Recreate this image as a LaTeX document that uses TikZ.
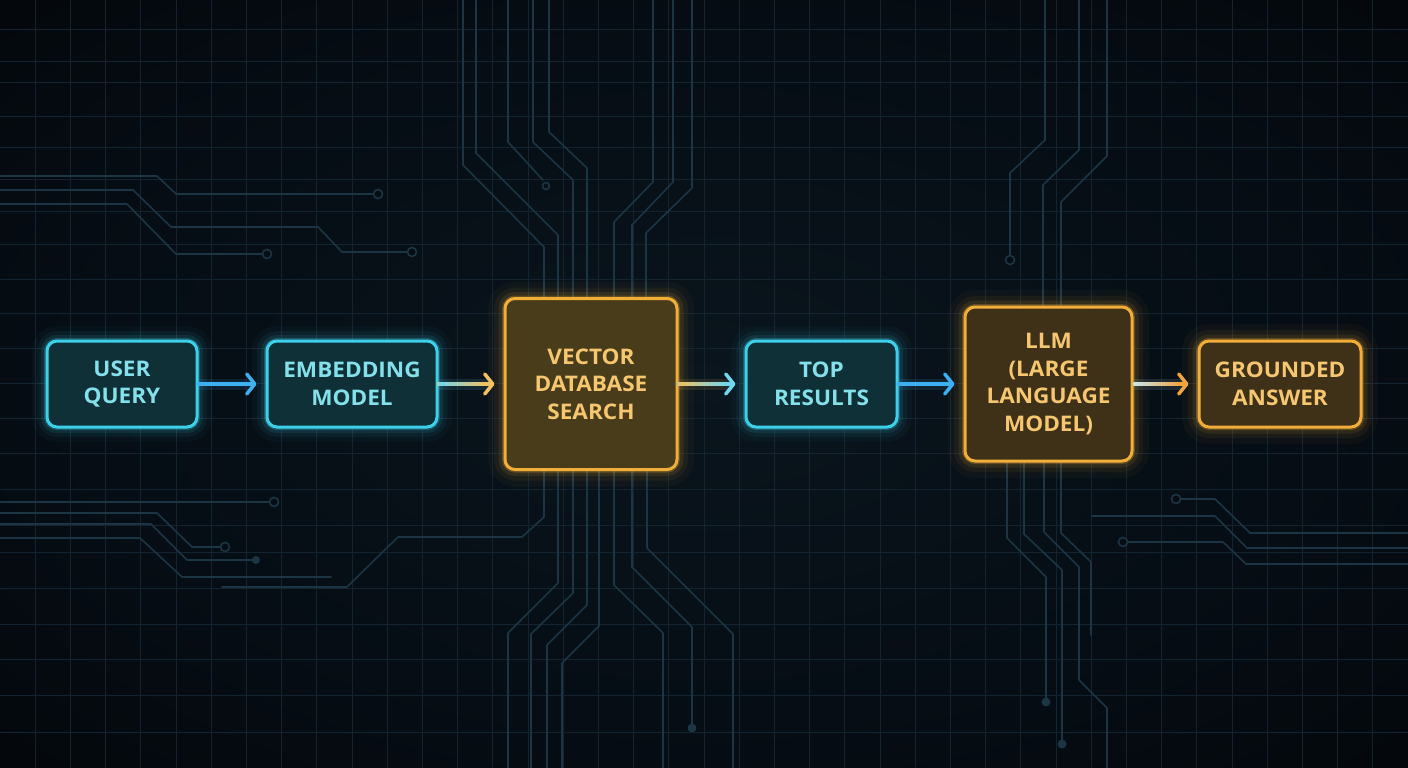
\documentclass[tikz,border=0pt]{standalone}
\usepackage{fontspec}
\setmainfont{Open Sans}[FakeStretch=1.05]
\usetikzlibrary{arrows.meta,calc}
\definecolor{bgin}{HTML}{0A151D}
\definecolor{bgmid}{HTML}{060D14}
\definecolor{bgout}{HTML}{010204}
\definecolor{gridc}{HTML}{142330}
\definecolor{tracec}{HTML}{1C3545}
\definecolor{cstroke}{HTML}{3DD0EA}
\definecolor{cfill}{HTML}{0F3037}
\definecolor{ctext}{HTML}{84E0EA}
\definecolor{ostroke}{HTML}{F2AE38}
\definecolor{ofill}{HTML}{483C1A}
\definecolor{ofillb}{HTML}{3E3118}
\definecolor{otext}{HTML}{F6C770}
\definecolor{ablue}{HTML}{3EB0F2}
\definecolor{acyan}{HTML}{6ED8F0}
\definecolor{awarm}{HTML}{F5C060}
\definecolor{apale}{HTML}{C4E9F0}
\definecolor{aorange}{HTML}{F2A640}
\pgfdeclareradialshading{vign}{\pgfpoint{0bp}{0bp}}{color(0bp)=(bgin); color(22bp)=(bgmid); color(50bp)=(bgout); color(72bp)=(bgout)}
\tikzset{
  gridline/.style={draw=gridc, line width=0.9pt},
  trace/.style={draw=tracec, line width=1.6pt, line cap=round, line join=round},
  pad/.style={draw=tracec, line width=1.6pt, fill=bgmid},
  dotpad/.style={fill=tracec},
  box/.style={rectangle, rounded corners=10pt, line width=3pt, inner sep=0pt, align=center,
    font=\fontsize{21.5}{27.5}\selectfont\bfseries},
  cglow/.style={preaction={draw=cstroke, line width=30pt, draw opacity=0.035},
    preaction={draw=cstroke, line width=20pt, draw opacity=0.06},
    preaction={draw=cstroke, line width=12pt, draw opacity=0.10},
    preaction={draw=cstroke, line width=6pt, draw opacity=0.25}},
  oglow/.style={preaction={draw=ostroke, line width=34pt, draw opacity=0.035},
    preaction={draw=ostroke, line width=22pt, draw opacity=0.06},
    preaction={draw=ostroke, line width=13pt, draw opacity=0.10},
    preaction={draw=ostroke, line width=6pt, draw opacity=0.25}},
  cbox/.style={box, cglow, draw=cstroke, fill=cfill, text=ctext},
  obox/.style={box, oglow, draw=ostroke, fill=ofill, text=otext},
  arr/.style={line width=3.5pt, line cap=round, -{Straight Barb[length=8pt,width=20pt,round]}, shorten >=9pt},
  aglow/.style={line width=11pt, draw opacity=0.12, shorten >=14pt},
}
\begin{document}
\begin{tikzpicture}[x=1pt,y=-1pt]
\useasboundingbox (0,0) rectangle (1408,768);
\shade[shading=vign] (0,0) rectangle (1408,768);
% grid
\foreach \k in {1,...,39} \draw[gridline] (35.2*\k,0) -- (35.2*\k,768);
\foreach \yy in {29,61,82,116,147,179,211,244,279,313,348,383,418,453,489,525,552,588,624,659,695,732}
  \draw[gridline] (0,\yy) -- (1408,\yy);
% circuit traces - left
\draw[trace] (0,176) -- (157,176) -- (176,194) -- (373,194);
\draw[pad] (378,194) circle (4.5);
\draw[trace] (0,190) -- (133,190) -- (171,227) -- (318,227) -- (342,252) -- (407,252);
\draw[pad] (412,252) circle (4.5);
\draw[trace] (0,204) -- (127,204) -- (176,254) -- (262,254);
\draw[pad] (267,254) circle (4.5);
\draw[trace] (0,502) -- (269,502);
\draw[pad] (274,502) circle (4.5);
\draw[trace] (0,513) -- (157,513) -- (192,547) -- (220,547);
\draw[pad] (225,547) circle (4.5);
\draw[trace] (0,524) -- (151,524) -- (187,560) -- (256,560);
\fill[dotpad] (256,560) circle (4);
\draw[trace] (0,538) -- (140,538) -- (182,577) -- (331,577);
\draw[trace] (222,587) -- (347,587) -- (398,537) -- (522,537) -- (544,517) -- (544,470);
% top centre
\draw[trace] (463,0) -- (463,165) -- (544,247) -- (544,300);
\draw[trace] (476,0) -- (476,153) -- (558,235) -- (558,300);
\draw[trace] (508,0) -- (508,142) -- (543,180);
\draw[trace] (546,186) circle (3.5);
\draw[trace] (533,0) -- (533,142) -- (573,180) -- (573,300);
\draw[trace] (549,0) -- (549,132) -- (587,168) -- (587,300);
\draw[trace] (653,0) -- (653,182) -- (614,222) -- (614,300);
\draw[trace] (673,0) -- (673,182) -- (632,225) -- (632,300);
\draw[trace] (692,0) -- (692,188) -- (646,233) -- (646,300);
% bottom centre
\draw[trace] (558,468) -- (558,583) -- (508,633) -- (508,768);
\draw[trace] (573,468) -- (573,593) -- (531,634) -- (531,768);
\draw[trace] (587,468) -- (587,605) -- (547,645) -- (547,768);
\draw[trace] (599,468) -- (599,626) -- (562,663) -- (562,768);
\draw[trace] (614,468) -- (614,585) -- (663,633) -- (663,768);
\draw[trace] (632,468) -- (632,567) -- (692,627) -- (692,724);
\fill[dotpad] (692,728) circle (4.5);
\draw[trace] (647,468) -- (647,548) -- (733,634) -- (733,768);
% LLM top
\draw[trace] (1045,0) -- (1045,140) -- (1010,173) -- (1010,255);
\draw[pad] (1010,260) circle (4.5);
\draw[trace] (1079,0) -- (1079,150) -- (1043,185) -- (1043,309);
\draw[trace] (1107,0) -- (1107,156) -- (1061,202) -- (1061,309);
% LLM bottom
\draw[trace] (1007,459) -- (1007,538) -- (1046,577) -- (1046,700);
\fill[dotpad] (1046,702) circle (4.5);
\draw[trace] (1024,459) -- (1024,534) -- (1062,570) -- (1062,742);
\fill[dotpad] (1062,744) circle (4.5);
\draw[trace] (1044,459) -- (1044,532) -- (1079,567) -- (1079,680) -- (1107,708) -- (1107,768);
\draw[trace] (1061,459) -- (1061,533) -- (1091,562) -- (1091,635);
% right
\draw[pad] (1176,499) circle (4.5);
\draw[trace] (1181,499) -- (1215,499) -- (1250,533) -- (1408,533);
\draw[trace] (1092,516) -- (1215,516) -- (1247,548) -- (1408,548);
\draw[pad] (1123,542) circle (4.5);
\draw[trace] (1128,542) -- (1223,542) -- (1246,564) -- (1408,564);
% boxes
\node[cbox, minimum width=150pt, minimum height=86pt] (uq) at (122,384) {USER\\QUERY};
\node[cbox, minimum width=170pt, minimum height=86pt] (em) at (352,384) {EMBEDDING\\MODEL};
\node[obox, minimum width=172pt, minimum height=171pt] (vd) at (591,384) {VECTOR\\DATABASE\\SEARCH};
\node[cbox, minimum width=151pt, minimum height=86pt] (tr) at (821.5,384) {TOP\\RESULTS};
\node[obox, fill=ofillb, minimum width=167pt, minimum height=154pt] (llm) at (1048.5,384) {LLM\\(LARGE\\LANGUAGE\\MODEL)};
\node[obox, fill=ofillb, minimum width=162pt, minimum height=86pt] (ga) at (1280,384) {GROUNDED\\ANSWER};
% arrows
\draw[aglow, ablue] (uq.east) -- (em.west);
\draw[arr, ablue] (uq.east) -- (em.west);
\draw[aglow, acyan] (em.east) -- (vd.west);
\draw[arr, awarm] (em.east) -- (vd.west);
\shade[left color=acyan, right color=awarm] ($(em.east)+(0,-1.75)$) rectangle ($(vd.west)+(-18,1.75)$);
\draw[aglow, awarm] (vd.east) -- (tr.west);
\draw[arr, acyan] (vd.east) -- (tr.west);
\shade[left color=awarm, right color=acyan] ($(vd.east)+(0,-1.75)$) rectangle ($(tr.west)+(-18,1.75)$);
\draw[aglow, ablue] (tr.east) -- (llm.west);
\draw[arr, ablue] (tr.east) -- (llm.west);
\draw[aglow, apale] (llm.east) -- (ga.west);
\draw[arr, aorange] (llm.east) -- (ga.west);
\shade[left color=apale, right color=aorange] ($(llm.east)+(0,-1.75)$) rectangle ($(ga.west)+(-18,1.75)$);
\end{tikzpicture}
\end{document}
